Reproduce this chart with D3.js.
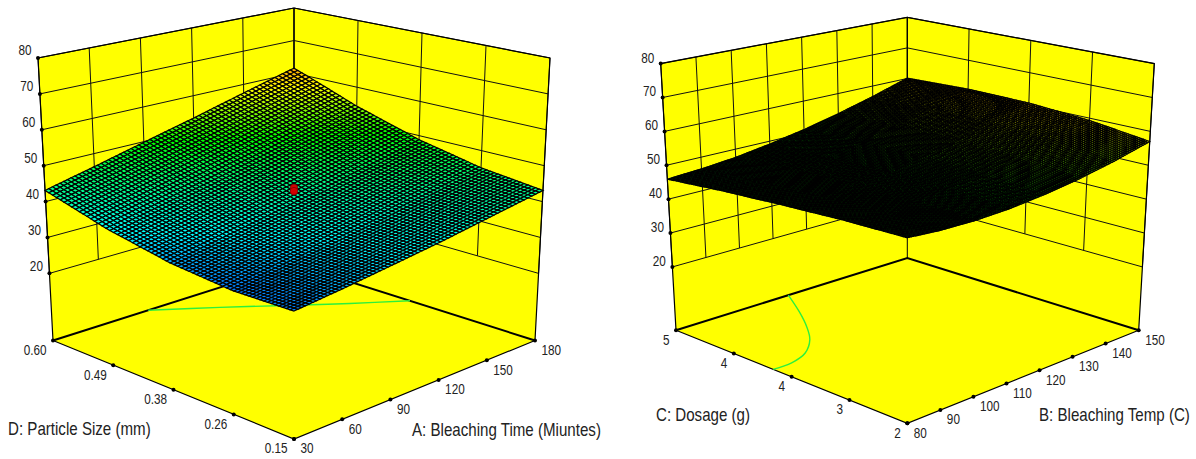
<!DOCTYPE html>
<html>
<head>
<meta charset="utf-8">
<script src="https://cdn.jsdelivr.net/npm/d3@7"></script>
<style>
  html, body { margin: 0; background: #fff; }
  text { font-family: "Liberation Sans", Arial, sans-serif; fill: #222; }
</style>
</head>
<body>
<svg id="chart" width="1196" height="459"></svg>
<script>
// axis values
const bleachTime = [30, 60, 90, 120, 150, 180];
const particleSize = [0.15, 0.2625, 0.375, 0.4875, 0.6];
const bleachTemp = [80, 90, 100, 110, 120, 130, 140, 150];
const dosage = [2, 2.75, 3.5, 4.25, 5];
const responseTicks = [20, 30, 40, 50, 60, 70, 80];
const responseFloor = 1.3;

// response read at each tick crossing: one row per particle size, one column per time
const responseTimeSize = [
  [34.2, 35.5, 37.1, 38.8, 40.9, 43.1],
  [33.8, 35.7, 37.7, 39.9, 42.4, 45.1],
  [35.2, 37.5, 40.0, 42.6, 45.6, 48.8],
  [38.3, 41.1, 44.0, 47.2, 50.7, 54.3],
  [43.1, 46.3, 49.8, 53.4, 57.4, 61.5],
];
// one row per dosage, one column per temperature
const responseTempDosage = [
  [50.9, 50.1, 49.8, 50.1, 51.0, 52.4, 54.4, 57.0],
  [50.3, 49.9, 50.1, 50.8, 52.1, 53.9, 56.3, 59.3],
  [49.2, 49.2, 49.8, 50.9, 52.5, 54.7, 57.3, 60.6],
  [47.8, 48.1, 48.9, 50.3, 52.2, 54.5, 57.4, 60.8],
  [45.9, 46.5, 47.5, 49.1, 51.1, 53.6, 56.6, 60.1],
];

// green contour on the floor
const contourTime = [89.3, 115.5, 141, 159.8, 180];
const contourSize = [0.6, 0.545, 0.483, 0.435, 0.3835];
const contourTemp = [114, 107.9, 103.1, 98.1, 91.8, 85.6, 80];
const contourDosage = [5, 4.586, 4.295, 4.04, 3.83, 3.74, 3.74];

// centre point of the design
const designTime = [105];
const designSize = [0.375];
const designResponse = [45];

const panels = [
  {
    xName: "A: Bleaching Time (Miuntes)", yName: "D: Particle Size (mm)",
    xTicks: bleachTime, yTicks: particleSize, heights: responseTimeSize,
    xFormat: d3.format("d"), yFormat: d3.format(".2f"),
    contourX: contourTime, contourY: contourSize,
    pointX: designTime, pointY: designSize, pointZ: designResponse,
    cells: 66, mesh: 1.2,
    floor: { front: [294, 439], right: [535, 340.5], left: [53, 340.5], back: [294, 264] },
    top: { front: [294, 133], right: [550, 58], left: [38, 58], back: [294, 8] },
    zLabelDy: -7.5,
    xTitle: [412, 429.5], yTitle: [8, 429],
  },
  {
    xName: "B: Bleaching Temp (C)", yName: "C: Dosage (g)",
    xTicks: bleachTemp, yTicks: dosage, heights: responseTempDosage,
    xFormat: d3.format("d"), yFormat: d3.format(".0f"),
    contourX: contourTemp, contourY: contourDosage,
    pointX: [], pointY: [], pointZ: [],
    cells: 110, mesh: 1.12,
    floor: { front: [907.3, 423.3], right: [1138.7, 330.3], left: [676, 330.3], back: [907.3, 258] },
    top: { front: [907.3, 129], right: [1154.3, 63.6], left: [660.7, 63.6], back: [907.3, 17.3] },
    zLabelDy: -6,
    xTitle: [1039, 415], yTitle: [656, 415],
  },
];

const svg = d3.select("#chart");
const ramp = d3.scaleLinear()
  .domain([30, 38, 50, 58, 68])
  .range(["#0000ff", "#00ffff", "#00ff00", "#ffff00", "#ff0000"])
  .clamp(true);

panels.forEach(drawPanel);

function drawPanel(p) {
  const g = svg.append("g");
  const xScale = d3.scaleLinear().domain(d3.extent(p.xTicks)).range([0, 1]);
  const yScale = d3.scaleLinear().domain(d3.extent(p.yTicks)).range([0, 1]);
  const zScale = d3.scaleLinear().domain([responseFloor, 80]).range([0, 1]);

  // box is mapped corner to corner, the ticks stay evenly spaced along each edge
  const onFace = (face, a, b) => ["0", "1"].map((_, i) =>
    face.front[i] * (1 - a) * (1 - b) + face.right[i] * a * (1 - b) +
    face.left[i] * (1 - a) * b + face.back[i] * a * b);
  const place = (a, b, c) => {
    const lo = onFace(p.floor, a, b);
    const hi = onFace(p.top, a, b);
    return [lo[0] + (hi[0] - lo[0]) * c, lo[1] + (hi[1] - lo[1]) * c];
  };
  const project = (x, y, z) => place(xScale(x), yScale(y), zScale(z));
  const line = d3.line();

  // walls and floor
  const walls = [
    [[0, 1, 0], [1, 1, 0], [1, 1, 1], [0, 1, 1]],
    [[1, 0, 0], [1, 1, 0], [1, 1, 1], [1, 0, 1]],
    [[0, 1, 0], [0, 0, 0], [1, 0, 0], [1, 1, 0]],
  ];
  g.selectAll("path.wall").data(walls).join("path")
    .attr("class", "wall")
    .attr("fill", "#ffff00")
    .attr("d", (w) => line(w.map((c) => place(...c))) + "Z");

  // wall grid, verticals stop at the lowest response tick
  const zLow = d3.min(responseTicks);
  const zHigh = d3.max(responseTicks);
  const gridLines = [];
  p.xTicks.forEach((x) => gridLines.push([project(x, p.yTicks[4], zLow), project(x, p.yTicks[4], zHigh)]));
  p.yTicks.forEach((y) => gridLines.push([project(d3.max(p.xTicks), y, zLow), project(d3.max(p.xTicks), y, zHigh)]));
  responseTicks.forEach((z) => {
    gridLines.push([project(p.xTicks[0], d3.max(p.yTicks), z), project(d3.max(p.xTicks), d3.max(p.yTicks), z)]);
    gridLines.push([project(d3.max(p.xTicks), p.yTicks[0], z), project(d3.max(p.xTicks), d3.max(p.yTicks), z)]);
  });
  g.append("path")
    .attr("fill", "none")
    .attr("stroke", "#111")
    .attr("stroke-width", 1)
    .attr("d", gridLines.map((l) => line(l)).join(""));

  // box edges
  const edges = [
    { pts: [[0, 1, 0], [0, 1, 1], [1, 1, 1], [1, 0, 1], [1, 0, 0]], w: 1.2 },
    { pts: [[1, 1, 0], [1, 1, 1]], w: 1 },
    { pts: [[0, 1, 0], [0, 0, 0], [1, 0, 0]], w: 1.2 },
    { pts: [[0, 1, 0], [1, 1, 0], [1, 0, 0]], w: 2 },
  ];
  g.selectAll("path.edge").data(edges).join("path")
    .attr("class", "edge")
    .attr("fill", "none")
    .attr("stroke", "#000")
    .attr("stroke-width", (e) => e.w)
    .attr("d", (e) => line(e.pts.map((c) => place(...c))));

  // contour on the floor
  g.append("path")
    .attr("fill", "none")
    .attr("stroke", "#2cf03c")
    .attr("stroke-width", 1.4)
    .attr("d", d3.line().curve(d3.curveCatmullRom)(
      p.contourX.map((x, i) => project(x, p.contourY[i], responseFloor))));

  // surface, heights between the read nodes come from the scales
  const rowScales = p.heights.map((r) => d3.scaleLinear().domain(p.xTicks).range(r));
  const heightAt = (x, y) =>
    d3.scaleLinear().domain(p.yTicks).range(rowScales.map((s) => s(x)))(y);
  const xStep = xScale.invert, yStep = yScale.invert;
  const cells = [];
  for (let i = p.cells - 1; i >= 0; i--) {
    for (let j = p.cells - 1; j >= 0; j--) {
      const x0 = xStep(i / p.cells), x1 = xStep((i + 1) / p.cells);
      const y0 = yStep(j / p.cells), y1 = yStep((j + 1) / p.cells);
      const zs = [heightAt(x0, y0), heightAt(x1, y0), heightAt(x1, y1), heightAt(x0, y1)];
      cells.push({
        d: line([project(x0, y0, zs[0]), project(x1, y0, zs[1]), project(x1, y1, zs[2]), project(x0, y1, zs[3])]) + "Z",
        z: d3.mean(zs),
      });
    }
  }
  g.append("g").selectAll("path").data(cells).join("path")
    .attr("d", (c) => c.d)
    .attr("fill", (c) => ramp(c.z))
    .attr("stroke", "#000")
    .attr("stroke-width", p.mesh);

  // design point
  p.pointX.forEach((x, i) => {
    const [px, py] = project(x, p.pointY[i], p.pointZ[i]);
    [-1.6, 1.6].forEach((dy) => {
      g.append("circle")
        .attr("cx", px).attr("cy", py + dy).attr("r", 3.8)
        .attr("fill", "#d40000")
        .attr("stroke", "#7a0000")
        .attr("stroke-width", 0.8);
    });
  });

  // tick dots and labels
  const marks = [];
  responseTicks.forEach((z) => marks.push({ at: project(p.xTicks[0], d3.max(p.yTicks), z), text: z, dx: -6.5, dy: p.zLabelDy, anchor: "end" }));
  p.yTicks.forEach((y) => marks.push({ at: project(p.xTicks[0], y, responseFloor), text: p.yFormat(y), dx: -6.5, dy: 9.5, anchor: "end" }));
  p.xTicks.forEach((x) => marks.push({ at: project(x, p.yTicks[0], responseFloor), text: p.xFormat(x), dx: 6.5, dy: 9.5, anchor: "start" }));

  g.selectAll("circle.tick").data(marks).join("circle")
    .attr("class", "tick")
    .attr("cx", (m) => m.at[0])
    .attr("cy", (m) => m.at[1])
    .attr("r", 2)
    .attr("fill", "#000");
  g.selectAll("text.tick").data(marks).join("text")
    .attr("class", "tick")
    .attr("transform", (m) => `translate(${m.at[0] + m.dx},${m.at[1] + m.dy}) scale(0.84,1)`)
    .attr("text-anchor", (m) => m.anchor)
    .attr("dy", "0.35em")
    .attr("font-size", 14)
    .text((m) => m.text);

  // axis titles
  [[p.xName, p.xTitle], [p.yName, p.yTitle]].forEach(([name, pos]) => {
    g.append("text")
      .attr("transform", `translate(${pos[0]},${pos[1]}) scale(0.84,1)`)
      .attr("dy", "0.35em")
      .attr("font-size", 18)
      .text(name);
  });
}
</script>
</body>
</html>
